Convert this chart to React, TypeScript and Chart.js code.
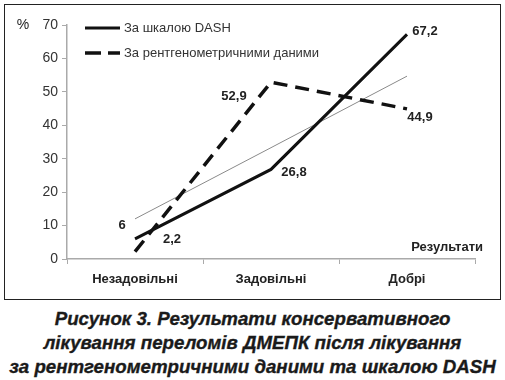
import React, { useEffect, useRef } from "react";
import { Chart, registerables } from "chart.js";

Chart.register(...registerables);

const categories = ["Незадовільні", "Задовільні", "Добрі"];
const seriesNames = ["За шкалою DASH", "За рентгенометричними даними"];
const dashValues = [6, 26.8, 67.2];
const xrayValues = [2.2, 52.9, 44.9];
const trendValues = [12.0, 33.3, 54.7];
const yMin = 0;
const yMax = 70;
const yStep = 10;
const yUnit = "%";
const xTitle = "Результати";
const captionLines = [
  "Рисунок 3. Результати консервативного",
  "лікування переломів ДМЕПК після лікування",
  "за рентгенометричними даними та шкалою DASH",
];

// label offsets (styling only)
const dashLabelOffsets = [
  [-13, -14],
  [23, 3],
  [18, -3],
];
const xrayLabelOffsets = [
  [37, -12],
  [-37, 14],
  [13, 9],
];

const FONT = "'Liberation Sans', Arial, Helvetica, sans-serif";

const fmt = (v: number) => String(v).replace(".", ",");

const overlayPlugin = {
  id: "overlay",
  afterDatasetsDraw(chart: any) {
    const ctx = chart.ctx;
    const x = chart.scales.x;
    const y = chart.scales.y;
    ctx.save();
    // data labels
    ctx.font = `bold 13px ${FONT}`;
    ctx.fillStyle = "#222";
    ctx.textAlign = "center";
    ctx.textBaseline = "middle";
    dashValues.forEach((v, i) => {
      const px = x.getPixelForValue(i) + dashLabelOffsets[i][0];
      const py = y.getPixelForValue(v) + dashLabelOffsets[i][1];
      ctx.fillText(fmt(v), px, py);
    });
    xrayValues.forEach((v, i) => {
      const px = x.getPixelForValue(i) + xrayLabelOffsets[i][0];
      const py = y.getPixelForValue(v) + xrayLabelOffsets[i][1];
      ctx.fillText(fmt(v), px, py);
    });
    // x title
    ctx.textAlign = "right";
    ctx.fillText(xTitle, x.right + 8, y.bottom - 12);
    // unit
    ctx.font = `14px ${FONT}`;
    ctx.fillStyle = "#222";
    ctx.textAlign = "center";
    ctx.fillText(yUnit, 23, y.getPixelForValue(yMax));
    // legend
    const lx0 = 85;
    const lx1 = 120;
    const rows = [y.getPixelForValue(yMax) + 3, y.getPixelForValue(yMax) + 28];
    const ds = chart.data.datasets;
    [0, 1].forEach((k) => {
      const d = ds[k];
      ctx.beginPath();
      ctx.strokeStyle = d.borderColor;
      ctx.lineWidth = d.borderWidth;
      ctx.setLineDash(k === 1 ? [16, 7] : []);
      ctx.moveTo(lx0, rows[k]);
      ctx.lineTo(lx1, rows[k]);
      ctx.stroke();
      ctx.setLineDash([]);
      ctx.font = `13px ${FONT}`;
      ctx.fillStyle = "#333";
      ctx.textAlign = "left";
      ctx.fillText(d.label, lx1 + 4, rows[k]);
    });
    ctx.restore();
  },
};

export default function App() {
  const ref = useRef<HTMLCanvasElement | null>(null);
  useEffect(() => {
    if (!ref.current) return;
    const chart = new Chart(ref.current, {
      type: "line",
      data: {
        labels: categories,
        datasets: [
          {
            label: seriesNames[0],
            data: dashValues,
            borderColor: "#111",
            borderWidth: 3,
            pointRadius: 0,
            tension: 0,
            order: 1,
          },
          {
            label: seriesNames[1],
            data: xrayValues,
            borderColor: "#111",
            borderWidth: 3.5,
            borderDash: [14, 8],
            pointRadius: 0,
            tension: 0,
            order: 2,
          },
          {
            label: "trend",
            data: trendValues,
            borderColor: "#8a8a8a",
            borderWidth: 1,
            pointRadius: 0,
            tension: 0,
            order: 3,
          },
        ],
      },
      options: {
        responsive: false,
        animation: false,
        devicePixelRatio: 1,
        layout: { padding: { left: 0, right: 30, top: 25, bottom: 0 } },
        plugins: {
          legend: { display: false },
          tooltip: { enabled: false },
          title: { display: false },
        },
        scales: {
          x: {
            type: "category",
            offset: true,
            grid: {
              offset: true,
              drawOnChartArea: false,
              tickLength: 5,
              color: "#aaa",
            },
            border: { color: "#aaa", width: 1.5 },
            ticks: {
              font: { family: FONT, size: 13, weight: "bold" },
              color: "#222",
              padding: 8,
              maxRotation: 0,
            },
            afterFit: (s: any) => {
              s.height = 41;
            },
          },
          y: {
            min: yMin,
            max: yMax,
            ticks: {
              stepSize: yStep,
              font: { family: FONT, size: 14 },
              color: "#333",
              padding: 4,
            },
            grid: {
              drawOnChartArea: false,
              tickLength: 5,
              color: "#aaa",
            },
            border: { color: "#aaa", width: 1.5 },
            afterFit: (s: any) => {
              s.width = 67;
            },
          },
        },
      },
      plugins: [overlayPlugin],
    });
    return () => chart.destroy();
  }, []);

  return (
    <div style={{ position: "absolute", left: 0, top: 0, width: 505, height: 380, background: "#fff" }}>
      <div
        style={{
          position: "absolute",
          left: 4,
          top: 4,
          width: 495,
          height: 294,
          border: "1.5px solid #222",
        }}
      />
      <canvas
        ref={ref}
        width={505}
        height={300}
        style={{ position: "absolute", left: 0, top: 0, width: 505, height: 300 }}
      />
      <div
        style={{
          position: "absolute",
          left: 0,
          top: 307,
          width: 505,
          textAlign: "center",
          font: `italic bold 18.7px ${FONT}`,
          lineHeight: "24px",
          color: "#1a1a1a",
          WebkitTextStroke: "0.35px #1a1a1a",
        }}
      >
        {captionLines.map((l, i) => (
          <div key={i}>{l}</div>
        ))}
      </div>
    </div>
  );
}
